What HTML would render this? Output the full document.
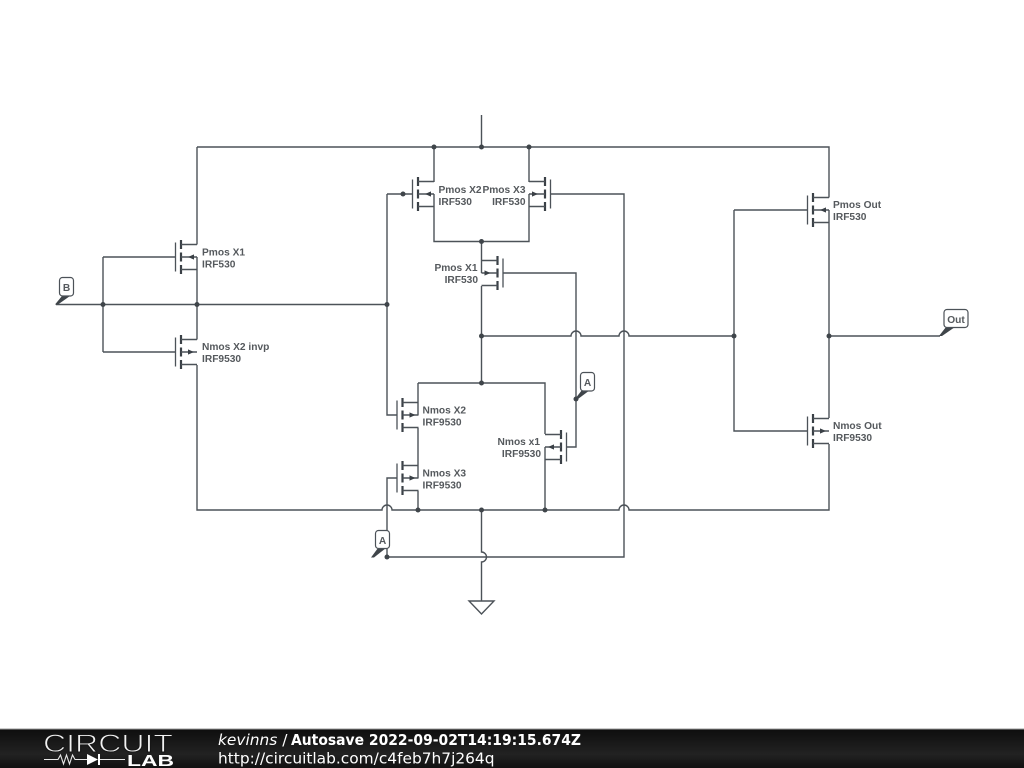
<!DOCTYPE html>
<html><head><meta charset="utf-8"><style>
html,body{margin:0;padding:0;background:#fff;width:1024px;height:768px;overflow:hidden}
svg{display:block}
.w{fill:none;stroke:#4c5258;stroke-width:1.4}
.t{font:bold 10.2px "Liberation Sans",sans-serif;fill:#55595d}
.lb{font:bold 10.2px "Liberation Sans",sans-serif;fill:#55595d;text-anchor:middle}
.box{fill:#fff;stroke:#4c5258;stroke-width:1.2}
.e{text-anchor:end}
</style></head><body>
<svg width="1024" height="768" viewBox="0 0 1024 768" xmlns="http://www.w3.org/2000/svg">
<defs>
<linearGradient id="g" x1="0" y1="0" x2="0" y2="1"><stop offset="0" stop-color="#0e0e0e"/><stop offset="0.65" stop-color="#222"/><stop offset="1" stop-color="#111"/></linearGradient>
<g id="m">
<path d="M-5.5-14.5V14.5" fill="none" stroke="#4c5258" stroke-width="1.3"/>
<path d="M0-17V-8M0-4.5V4.5M0 8V17" fill="none" stroke="#3a4046" stroke-width="2.2"/>
<path d="M0-12.5H16M0 0H16M0 12.5H16" fill="none" stroke="#4c5258" stroke-width="1.4"/>
</g>
<path id="ap" d="M7 0L13-2.6V2.6Z" fill="#3a4046"/>
<path id="an" d="M13 0L7-2.6V2.6Z" fill="#3a4046"/>
</defs>

<!-- wires -->
<g class="w">
<path d="M481.5 115V147M197 147H829V197.5M197 147V244.5M197 257V339.5M197 365V510H382a5 5 0 0 1 10 0H619a5 5 0 0 1 10 0H829V444M829 210V418"/>
<path d="M56 304.500H197M103 257V352M103 257H176M103 352H176M197 304.500H387M387 194V415H397M387 194H412.500"/>
<path d="M434 147V182M434 194V241.500H529V194M529 147V182M551 194H624V557H387M481.500 241.500V260M481.500 260V273M481.500 286V383"/>
<path d="M503 273H576V399M576 399V447H567"/>
<path d="M481.500 336H571a5 5 0 0 1 10 0H619a5 5 0 0 1 10 0H734M734 210H807M734 210V431H807M829 336H940"/>
<path d="M418 383H545V434M545 447V510M418 383V403M418 415V403M418 428V466M418 478V466M418 491V510"/>
<path d="M397 478H387V557"/>
<path d="M481.500 510V552a5 5 0 0 1 0 10V601M469 601H494L481.500 614Z"/>
</g>

<!-- transistors -->
<use href="#m" transform="translate(181,257)"/><use href="#ap" transform="translate(181,257)"/>
<use href="#m" transform="translate(181,352)"/><use href="#an" transform="translate(181,352)"/>
<use href="#m" transform="translate(418,194)"/><use href="#ap" transform="translate(418,194)"/>
<use href="#m" transform="translate(545,194) scale(-1,1)"/><use href="#ap" transform="translate(545,194) scale(-1,1)"/>
<use href="#m" transform="translate(497.500,273) scale(-1,1)"/><use href="#ap" transform="translate(497.500,273) scale(-1,1)"/>
<use href="#m" transform="translate(402.500,415)"/><use href="#an" transform="translate(402.500,415)"/>
<use href="#m" transform="translate(402.500,478)"/><use href="#an" transform="translate(402.500,478)"/>
<use href="#m" transform="translate(561,447) scale(-1,1)"/><use href="#an" transform="translate(561,447) scale(-1,1)"/>
<use href="#m" transform="translate(813,210)"/><use href="#ap" transform="translate(813,210)"/>
<use href="#m" transform="translate(813,431)"/><use href="#an" transform="translate(813,431)"/>

<!-- dots -->
<g fill="#3f454a">
<circle cx="434" cy="147" r="2.500"/><circle cx="481.500" cy="147" r="2.500"/><circle cx="529" cy="147" r="2.500"/>
<circle cx="403" cy="194" r="2.500"/><circle cx="481.500" cy="241.500" r="2.500"/>
<circle cx="103" cy="304.500" r="2.500"/><circle cx="197" cy="304.500" r="2.500"/><circle cx="387" cy="304.500" r="2.500"/>
<circle cx="481.500" cy="336" r="2.500"/><circle cx="734" cy="336" r="2.500"/><circle cx="829" cy="336" r="2.500"/>
<circle cx="481.500" cy="383" r="2.500"/><circle cx="576" cy="399" r="2.500"/>
<circle cx="418" cy="510" r="2.500"/><circle cx="481.500" cy="510" r="2.500"/><circle cx="545" cy="510" r="2.500"/>
<circle cx="387" cy="557" r="2.500"/>
</g>

<!-- net flags -->
<path d="M55 304.500L62 296H70L58 304.500Z" fill="#3f454a"/>
<rect class="box" x="59.500" y="277.500" width="14" height="18.500" rx="3"/>
<text class="lb" x="66.500" y="291">B</text>
<path d="M371 557.500L378 548H386L374 557.500Z" fill="#3f454a"/>
<rect class="box" x="375.500" y="530.500" width="14" height="18" rx="3"/>
<text class="lb" x="382.500" y="544">A</text>
<path d="M575 399L582 390H590L578 399Z" fill="#3f454a"/>
<rect class="box" x="580.500" y="372.500" width="14" height="18.500" rx="3"/>
<text class="lb" x="587.500" y="386">A</text>
<path d="M939 336L946 327H955L942 336Z" fill="#3f454a"/>
<rect class="box" x="944" y="309.500" width="24" height="18" rx="3"/>
<text class="lb" x="956" y="323">Out</text>

<!-- labels -->
<g class="t">
<text x="202" y="255.500">Pmos X1</text><text x="202" y="267.500">IRF530</text>
<text x="202" y="350">Nmos X2 invp</text><text x="202" y="362">IRF9530</text>
<text x="438.500" y="193">Pmos X2</text><text x="438.500" y="205">IRF530</text>
<text class="e" x="525.500" y="193">Pmos X3</text><text class="e" x="525.500" y="205">IRF530</text>
<text class="e" x="477.500" y="271">Pmos X1</text><text class="e" x="478" y="283">IRF530</text>
<text x="422.500" y="413.500">Nmos X2</text><text x="422.500" y="425.500">IRF9530</text>
<text x="422.500" y="476.500">Nmos X3</text><text x="422.500" y="488.500">IRF9530</text>
<text class="e" x="540" y="445">Nmos x1</text><text class="e" x="541" y="457">IRF9530</text>
<text x="833" y="208">Pmos Out</text><text x="833" y="220">IRF530</text>
<text x="833" y="429">Nmos Out</text><text x="833" y="441">IRF9530</text>
</g>

<!-- footer -->
<rect x="0" y="729" width="1024" height="39" fill="url(#g)"/>
<rect x="0" y="728.500" width="1024" height="1" fill="#999"/>
<text x="43" y="752" font-family="Liberation Sans, sans-serif" font-size="25" textLength="130" lengthAdjust="spacingAndGlyphs" fill="#f2f2f2" stroke="#161616" stroke-width="0.9">CIRCUIT</text>
<path d="M44 759.500H58L60.500 755L63.500 764L66.500 755L69.500 764L72.500 755L75 759.500H87M100 759.500H125" fill="none" stroke="#e8e8e8" stroke-width="1.100"/>
<path d="M87 754V765L98 759.500Z M98 754H100V765H98Z" fill="#fff"/>
<text x="127" y="766" font-family="Liberation Sans, sans-serif" font-size="16" font-weight="bold" textLength="47" lengthAdjust="spacingAndGlyphs" fill="#fff">LAB</text>
<text x="218" y="745" font-family="DejaVu Sans, sans-serif" font-size="15.400" fill="#fff"><tspan font-style="italic">kevinns</tspan> /</text>
<text x="291" y="745" font-family="DejaVu Sans, sans-serif" font-size="15.400" font-weight="bold" textLength="290" lengthAdjust="spacingAndGlyphs" fill="#fff">Autosave 2022-09-02T14:19:15.674Z</text>
<text x="218" y="763.500" font-family="DejaVu Sans, sans-serif" font-size="15.400" fill="#fff">http://circuitlab.com/c4feb7h7j264q</text>
</svg>
</body></html>
